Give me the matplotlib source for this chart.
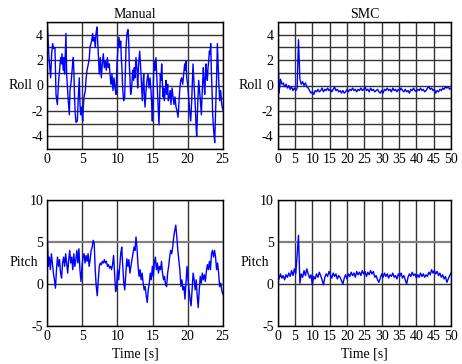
import numpy as np
import matplotlib
matplotlib.use("Agg")
import matplotlib.pyplot as plt
from matplotlib.ticker import MultipleLocator

plt.rcParams['font.family'] = ['Liberation Serif', 'DejaVu Serif']
plt.rcParams['font.size'] = 10
plt.rcParams['axes.unicode_minus'] = False

# ---------------- data ----------------
manual_roll_t = [0.00, 0.24, 0.48, 0.62, 0.76, 0.90, 1.09, 1.24, 1.43, 1.62, 1.90, 2.00, 2.09, 2.28, 2.38,
                 2.47, 2.66, 2.76, 2.95, 3.14, 3.23, 3.42, 3.61, 3.71, 3.80, 3.90, 3.99, 4.09, 4.28, 4.42,
                 4.56, 4.66, 4.75, 4.85, 4.94, 5.04, 5.13, 5.23, 5.42, 5.51, 5.66, 5.85, 5.99, 6.08, 6.32,
                 6.46, 6.56, 6.70, 6.84, 6.94, 7.08, 7.18, 7.32, 7.41, 7.56, 7.70, 7.84, 7.98, 8.13, 8.27,
                 8.41, 8.56, 8.70, 8.84, 8.98, 9.08, 9.22, 9.36, 9.51, 9.65, 9.79, 9.93, 10.08, 10.22, 10.36,
                 10.46, 10.55, 10.65, 10.74, 10.88, 11.03, 11.12, 11.22, 11.36, 11.50, 11.60, 11.69, 11.79,
                 11.88, 12.02, 12.17, 12.31, 12.40, 12.50, 12.64, 12.79, 12.88, 13.02, 13.17, 13.31, 13.40,
                 13.55, 13.64, 13.74, 13.83, 13.93, 14.07, 14.21, 14.35, 14.50, 14.64, 14.78, 14.88, 14.97,
                 15.07, 15.16, 15.26, 15.35, 15.49, 15.59, 15.68, 15.78, 15.92, 16.02, 16.11, 16.21, 16.30,
                 16.40, 16.49, 16.59, 16.68, 16.83, 16.92, 17.02, 17.16, 17.25, 17.40, 17.54, 17.63, 17.78,
                 17.92, 18.06, 18.20, 18.35, 18.49, 18.63, 18.73, 18.87, 19.01, 19.15, 19.30, 19.44, 19.58,
                 19.68, 19.77, 19.87, 20.01, 20.15, 20.29, 20.44, 20.58, 20.68, 20.77, 20.87, 20.96, 21.10,
                 21.20, 21.29, 21.39, 21.48, 21.58, 21.67, 21.82, 21.96, 22.05, 22.15, 22.24, 22.34, 22.43,
                 22.53, 22.62, 22.72, 22.81, 22.91, 23.00, 23.10, 23.19, 23.29, 23.38, 23.48, 23.57, 23.72,
                 23.86, 23.95, 24.05, 24.14, 24.24, 24.33, 24.43, 24.57, 24.71, 24.86, 25.00]
manual_roll = [4.9, 2.2, 0.6, 2.5, 3.3, 2.9, 3.0, -0.7, -1.5, 0.4, 2.2, 1.7, 2.5, 1.2, 2.2,
               0.9, 4.1, 0.9, -0.9, -2.3, -0.4, 0.4, 1.7, 2.2, 0.9, -1.2, -2.3, -2.9, -2.8, -0.9,
               0.6, -1.5, -2.3, -1.7, -2.0, -2.8, -1.7, -0.9, -0.4, 0.4, 1.2, 1.7, 2.2, 3.0, 3.5,
               4.1, 3.5, 3.8, 3.0, 4.1, 4.6, 3.5, 1.9, 0.9, 2.2, 0.6, 1.7, 2.5, 1.4, 1.9,
               1.2, 2.2, 1.4, 1.7, 0.6, 0.1, 0.9, -0.4, 0.6, -0.2, -0.7, 1.7, 3.0, 3.8, 3.0,
               3.5, 2.2, 1.2, -0.2, -1.2, -0.9, 0.9, 3.0, 4.1, 4.4, 3.5, 1.7, 0.4,
               -0.7, -0.2, 1.2, 0.4, 1.4, 0.6, 2.2, 1.2, -0.2, 1.7, 2.7, 1.4, 0.4,
               -1.2, 0.1, 0.9, -0.7, -1.7, -0.4, 0.4, 0.9, -0.2, 0.6, -0.4, -1.5, -2.8,
               -0.9, 1.2, 1.9, 1.2, 2.2, 0.9, -0.2, -1.5, -3.1, -0.9, 0.9, 0.4, 1.7,
               0.4, -0.9, -0.2, -1.2, -0.4, 0.4, -0.7, 0.1, -1.2, -0.9, -0.4, -1.5, -0.2,
               -0.9, -1.5, -0.9, -1.7, -2.0, -2.5, -1.7, -0.4, 0.4, 0.6, 0.1, 0.9, 1.7,
               1.2, 1.9, 0.6, 0.1, -0.9, -2.0, -2.8, -1.2, 0.4, 1.7, 0.6, -0.4, -1.7,
               -3.1, -4.0, -2.3, -0.9, 0.4, -0.2, -1.2, -2.3, -0.9, 0.4, 1.4, 0.4, -0.7,
               0.6, 1.7, 0.9, 0.4, 1.4, 1.9, 2.7, 2.5, 3.3, 1.2, -0.4, -2.3, -3.6,
               -4.5, -2.8, -0.9, 0.9, 3.3, 1.9, 0.4, -1.2, -0.4, -1.5, -1.9]

manual_pitch = [5.5, 2.1, 3.2, 1.7, 3.6, 2.5, 1.3, 0.5, -0.5, 1.7, 3.2, 2.1, 2.9, 1.3, 0.7, 2.5,
                3.2, 2.1, 3.6, 2.5, 1.3, 2.9, 4.0, 2.5, 3.2, 1.7, 3.6, 2.1, 2.9, 4.0, 2.5, 4.2,
                1.7, 0.3, 2.1, 3.2, 3.6, 2.5, 3.4, 2.7, 3.6, 2.1, 2.9, 4.0, 4.4, 5.2, 4.8, 1.7,
                -0.3, -1.4, 0.5, 2.1, 2.5, 2.3, 2.7, 2.5, 2.9, 2.5, 2.7, 2.1, 2.3, 1.9, 2.1, 1.7,
                2.3, 3.4, 1.3, -0.9, -0.3, 1.7, 0.5, 2.1, 3.6, 4.4, 2.1, 0.1, -0.7, 1.3, 3.0, 2.1,
                2.9, 1.3, 2.1, 2.9, 3.6, 4.4, 4.0, 5.6, 4.2, 2.1, 0.9, 1.7, 0.5, 1.3, 0.1, -0.7,
                -0.3, -1.4, -2.2, -0.7, 0.1, 1.3, 0.5, 2.1, 0.9, 2.5, 3.2, 1.7, 2.5, 1.3, 2.1, 1.7,
                2.7, 1.3, 0.5, 0.9, -0.1, -0.3, 1.3, 2.1, 3.2, 4.0, 3.6, 4.4, 5.6, 6.4, 7.0, 5.6,
                4.0, 2.9, 1.7, -0.3, 0.5, -0.7, -0.3, -1.8, 0.1, 2.1, 0.5, -0.7, -1.8, -2.6, -0.7, 1.3,
                0.5, -0.7, 0.5, -1.4, -2.8, -0.7, 0.9, 0.1, 1.3, 0.5, 1.1, 0.3, 1.5, 2.3, 1.7, 2.7,
                1.7, 3.6, 4.0, 3.2, 4.0, 3.2, 1.7, 2.5, 1.3, -0.3, 0.1, -0.7, -1.2]
manual_pitch_t = np.linspace(0, 25, len(manual_pitch))

smc_t = np.arange(0, 50.01, 0.4)
smc_roll = [3.0, -0.6, 0.5, 0.1, 0.2, -0.1, 0.1, -0.2, 0.0, -0.3, -0.1, -0.4, -0.2, -0.4, -0.2, 3.6,
            0.5, 0.1, 0.3, 0.0, 0.2, -0.1, -0.2, -0.4, -0.6, -0.5, -0.7, -0.4, -0.5, -0.3, -0.5, -0.4,
            -0.2, -0.5, -0.3, -0.4, -0.2, -0.4, -0.3, -0.5, -0.3, -0.1, -0.4, -0.3, -0.5, -0.4, -0.6, -0.4,
            -0.6, -0.5, -0.3, -0.5, -0.3, -0.4, -0.2, -0.4, -0.3, -0.5, -0.3, -0.4, -0.2, -0.4, -0.3, -0.1,
            -0.4, -0.3, -0.5, -0.2, -0.4, -0.3, -0.5, -0.4, -0.3, -0.5, -0.6, -0.4, -0.6, -0.3, -0.4, -0.2,
            -0.4, -0.3, -0.5, -0.2, -0.4, -0.3, -0.5, -0.3, -0.4, -0.2, -0.4, -0.5, -0.3, -0.5, -0.4, -0.6,
            -0.3, -0.4, -0.2, -0.4, -0.5, -0.3, -0.4, -0.2, -0.4, -0.3, -0.5, -0.4, -0.2, -0.1, -0.3, -0.2,
            -0.4, -0.3, -0.6, -0.4, -0.5, -0.3, -0.4, -0.2, -0.3, -0.1, -0.2, -0.1, -0.3, -0.2]
smc_pitch = [1.5, 0.6, 1.2, 0.7, 1.0, 0.5, 1.1, 0.8, 1.3, 0.9, 1.6, 1.0, 1.8, 1.2, 3.4, 5.8,
             0.1, 1.2, 0.8, 1.6, 1.0, 1.8, 1.2, 0.7, 1.1, -0.1, 0.9, 0.6, 1.2, 0.8, 1.4, 1.0,
             0.5, -0.1, 0.8, 1.2, 0.9, 1.5, 1.1, 0.7, 1.3, 0.9, 1.2, 0.6, 1.0, 0.8, 0.4, 0.0,
             0.7, 1.1, 0.6, 1.2, 0.9, 1.4, 1.0, 1.3, 0.8, 1.5, 1.1, 1.4, 1.0, 1.6, 1.2, 1.5,
             0.9, 1.4, 1.1, 1.6, 1.2, 1.5, 0.8, 1.0, 0.5, 0.2, 0.7, 1.2, 0.8, 1.3, 0.9, 1.2,
             0.7, 1.1, 0.9, 1.3, 0.8, 1.0, 0.6, 1.2, 0.9, 1.3, 0.7, 1.0, 0.5, 0.0, 0.8, 1.2,
             0.9, 1.4, 1.0, 1.2, 0.7, 1.1, 0.8, 1.3, 0.9, 1.2, 0.8, 1.1, 0.9, 1.4, 1.1, 1.7,
             1.3, 1.6, 1.2, 1.5, 1.0, 1.3, 0.8, 1.1, 0.6, 0.9, 0.2, 0.6, 1.0, 1.3]

titles = ["Manual", "SMC"]
row_labels = ["Roll", "Pitch"]
xlabel = "Time [s]"

# ---------------- figure ----------------
W, H = 462, 364
fig = plt.figure(figsize=(W / 100, H / 100), dpi=100)

def frac(l, t, r, b):
    return [l / W, (H - b) / H, (r - l) / W, (b - t) / H]

ax_tl = fig.add_axes(frac(47.3, 22, 222.7, 149))
ax_tr = fig.add_axes(frac(277.7, 22, 451, 149))
ax_bl = fig.add_axes(frac(47.3, 200, 222.7, 326))
ax_br = fig.add_axes(frac(277.7, 200, 451, 326))

grid_kw = dict(color='#333333', linewidth=1.0)

def style(ax, xmax, ylim, yticks, yminor=None):
    ax.set_xlim(0, xmax)
    ax.set_ylim(*ylim)
    ax.xaxis.set_major_locator(MultipleLocator(5))
    ax.set_yticks(yticks)
    if yminor is not None:
        ax.yaxis.set_minor_locator(MultipleLocator(yminor))
    ax.tick_params(which='both', length=0, pad=3, labelsize=10)
    ax.grid(True, which='both', **grid_kw)
    ax.set_axisbelow(True)
    for s in ax.spines.values():
        s.set_linewidth(1.0)
        s.set_color('black')

def row_label(ax, text, xpos):
    ax.set_ylabel(text, rotation=0, ha='right', va='center')
    ax.yaxis.set_label_coords(xpos, 0.5)

def gray_five(ax):
    # the y = 5 gridline of the pitch panels is drawn lighter and thicker
    for gl, tv in zip(ax.yaxis.get_gridlines(), ax.get_yticks()):
        if tv == 5:
            gl.set_color('#808080')
            gl.set_linewidth(1.6)

line_kw = dict(color='#0000ff', linewidth=1.0)

ax_tl.plot(manual_roll_t, manual_roll, **line_kw)
style(ax_tl, 25, (-5, 5), [-4, -2, 0, 2, 4], 1)
ax_tl.set_title(titles[0], fontsize=10, pad=3)
row_label(ax_tl, row_labels[0], -0.085)

ax_tr.plot(smc_t, smc_roll, **line_kw)
style(ax_tr, 50, (-5, 5), [-4, -2, 0, 2, 4], 1)
ax_tr.set_title(titles[1], fontsize=10, pad=3)
row_label(ax_tr, row_labels[0], -0.085)

ax_bl.plot(manual_pitch_t, manual_pitch, **line_kw)
style(ax_bl, 25, (-5, 10), [-5, 0, 5, 10])
row_label(ax_bl, row_labels[1], -0.05)
ax_bl.set_xlabel(xlabel, labelpad=3)

ax_br.plot(smc_t, smc_pitch, **line_kw)
style(ax_br, 50, (-5, 10), [-5, 0, 5, 10])
row_label(ax_br, row_labels[1], -0.05)
ax_br.set_xlabel(xlabel, labelpad=3)

fig.canvas.draw()
gray_five(ax_bl)
gray_five(ax_br)

fig.savefig("out.png", dpi=100)
